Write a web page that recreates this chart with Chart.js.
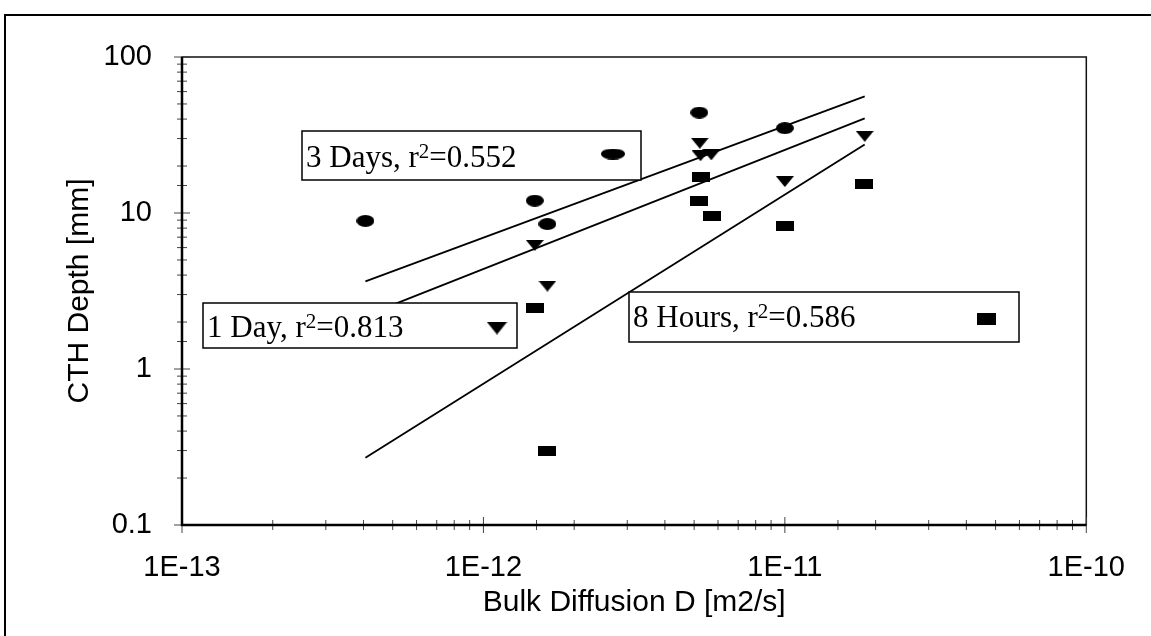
<!DOCTYPE html>
<html>
<head>
<meta charset="utf-8">
<script src="https://cdn.jsdelivr.net/npm/chart.js@4.4.0/dist/chart.umd.min.js"></script>
<style>
  html, body { margin: 0; padding: 0; background: #fff; }
  #caja { width: 1151px; height: 636px; }
</style>
</head>
<body>
<div id="caja"><canvas id="grafico" width="1151" height="636"></canvas></div>
<script>
// valores (D en m2/s, profundidad en mm)
const dias3X = [4.06e-13, 1.48e-12, 1.63e-12, 5.2e-12, 1.0e-11]
const dias3Y = [8.9, 12, 8.5, 44, 35]
const dia1X = [1.48e-12, 1.63e-12, 5.22e-12, 5.25e-12, 5.7e-12, 1.0e-11, 1.84e-11]
const dia1Y = [6.2, 3.4, 28, 23.3, 23.6, 15.9, 31]
const horas8X = [1.48e-12, 1.63e-12, 5.26e-12, 5.19e-12, 5.72e-12, 1.0e-11, 1.83e-11]
const horas8Y = [2.45, 0.30, 17, 11.9, 9.6, 8.2, 15.4]

// lineas de ajuste (extremos)
const ajusteX = [4.06e-13, 1.84e-11]
const ajuste3Y = [3.64, 56]
const ajuste1Y = [2.2, 40.4]
const ajuste8Y = [0.27, 27.5]

const series = ['3 Days', '1 Day', '8 Hours']
const r2 = ['0.552', '0.813', '0.586']

const ticksY = [0.1, 1, 10, 100]
const ticksX = [1e-13, 1e-12, 1e-11, 1e-10]

function puntos(xs, ys) {
    return xs.map((x, i) => ({ x: x, y: ys[i] }))
}

function hacerMarca(w, h, tipo) {
    const c = document.createElement('canvas')
    c.width = w
    c.height = h
    const g = c.getContext('2d')
    g.fillStyle = '#000'
    if (tipo == 'elipse') {
        g.beginPath()
        g.ellipse(w / 2, h / 2, w / 2, h / 2, 0, 0, 2 * Math.PI)
        g.fill()
    } else if (tipo == 'triangulo') {
        g.beginPath()
        g.moveTo(0, 0)
        g.lineTo(w, 0)
        g.lineTo(w / 2, h)
        g.closePath()
        g.fill()
    } else {
        g.fillRect(0, 0, w, h)
    }
    return c
}

const mElipse = hacerMarca(18, 12, 'elipse')
const mTriangulo = hacerMarca(18, 11, 'triangulo')
const mRect = hacerMarca(18, 10, 'rect')

// cajas de leyenda colocadas a mano como en el original
const cajas = [
    { x: 302, y: 131, w: 339, h: 49, base: 36, mx: 613, my: 154, marca: hacerMarca(24, 11, 'elipse') },
    { x: 203, y: 303, w: 314, h: 45, base: 34, mx: 497, my: 328, marca: hacerMarca(21, 13, 'triangulo') },
    { x: 629, y: 292, w: 390, h: 50, base: 35, mx: 986, my: 319, marca: hacerMarca(19, 12, 'rect') }
]

function esDecada(v) {
    const l = Math.log10(v)
    return Math.abs(l - Math.round(l)) < 1e-6
}

const marcos = {
    id: 'marcos',
    beforeDraw(chart) {
        const ctx = chart.ctx
        ctx.save()
        ctx.fillStyle = '#fff'
        ctx.fillRect(0, 0, chart.width, chart.height)
        ctx.strokeStyle = '#000'
        ctx.lineWidth = 2
        ctx.beginPath()
        ctx.moveTo(5, chart.height)
        ctx.lineTo(5, 15)
        ctx.lineTo(chart.width, 15)
        ctx.stroke()
        ctx.restore()
    },
    beforeDatasetsDraw(chart) {
        const ctx = chart.ctx
        const a = chart.chartArea
        const sx = chart.scales.x
        const sy = chart.scales.y
        ctx.save()
        ctx.strokeStyle = '#111'
        ctx.lineWidth = 1.5
        ctx.strokeRect(a.left, a.top, a.right - a.left, a.bottom - a.top)
        ctx.lineWidth = 1
        ctx.strokeStyle = '#444'
        sx.ticks.forEach(t => {
            const px = sx.getPixelForValue(t.value)
            const l = esDecada(t.value) ? 8 : 5
            ctx.beginPath()
            ctx.moveTo(px, a.bottom - l)
            ctx.lineTo(px, a.bottom + l)
            ctx.stroke()
        })
        sy.ticks.forEach(t => {
            const py = sy.getPixelForValue(t.value)
            const l = esDecada(t.value) ? 8 : 5
            ctx.beginPath()
            ctx.moveTo(a.left - l, py)
            ctx.lineTo(a.left + l, py)
            ctx.stroke()
        })
        ctx.strokeStyle = '#000'
        ctx.lineWidth = 2.5
        ctx.beginPath()
        ctx.moveTo(a.left, a.top)
        ctx.lineTo(a.left, a.bottom)
        ctx.lineTo(a.right, a.bottom)
        ctx.stroke()
        ctx.restore()
    },
    afterDatasetsDraw(chart) {
        const ctx = chart.ctx
        ctx.save()
        cajas.forEach((c, i) => {
            ctx.fillStyle = '#fff'
            ctx.fillRect(c.x, c.y, c.w, c.h)
            ctx.strokeStyle = '#000'
            ctx.lineWidth = 1.5
            ctx.strokeRect(c.x, c.y, c.w, c.h)
            ctx.fillStyle = '#000'
            ctx.textBaseline = 'alphabetic'
            let x = c.x + 4
            const y = c.y + c.base
            ctx.font = '31px "Liberation Serif"'
            const parte1 = series[i] + ', r'
            ctx.fillText(parte1, x, y)
            x += ctx.measureText(parte1).width
            ctx.font = '21px "Liberation Serif"'
            ctx.fillText('2', x, y - 9)
            x += ctx.measureText('2').width
            ctx.font = '31px "Liberation Serif"'
            ctx.fillText('=' + r2[i], x, y)
            ctx.drawImage(c.marca, c.mx - c.marca.width / 2, c.my - c.marca.height / 2)
        })
        ctx.restore()
    }
}

const lineaBase = { type: 'line', showLine: true, borderColor: '#000', borderWidth: 1.8, pointRadius: 0, fill: false }

const ctx = document.getElementById('grafico').getContext('2d')
const chart = new Chart(ctx, {
    type: 'scatter',
    data: {
        datasets: [
            Object.assign({ label: 'fit 3', data: puntos(ajusteX, ajuste3Y) }, lineaBase),
            Object.assign({ label: 'fit 1', data: puntos(ajusteX, ajuste1Y) }, lineaBase),
            Object.assign({ label: 'fit 8', data: puntos(ajusteX, ajuste8Y) }, lineaBase),
            { label: series[0], data: puntos(dias3X, dias3Y), pointStyle: mElipse, pointRadius: 9 },
            { label: series[1], data: puntos(dia1X, dia1Y), pointStyle: mTriangulo, pointRadius: 9 },
            { label: series[2], data: puntos(horas8X, horas8Y), pointStyle: mRect, pointRadius: 9 }
        ]
    },
    options: {
        responsive: false,
        animation: false,
        events: [],
        layout: { padding: { left: 0, top: 57, right: 54, bottom: 0 } },
        plugins: { legend: { display: false }, tooltip: { enabled: false } },
        font: { family: '"Liberation Sans"' },
        scales: {
            x: {
                type: 'logarithmic',
                min: ticksX[0],
                max: ticksX[ticksX.length - 1],
                border: { display: false },
                grid: { display: false, drawTicks: false },
                ticks: {
                    autoSkip: false,
                    maxRotation: 0,
                    padding: 26,
                    color: '#000',
                    font: { family: '"Liberation Sans"', size: 29 },
                    callback: v => esDecada(v) ? '1E' + Math.round(Math.log10(v)) : ''
                },
                title: {
                    display: true,
                    text: 'Bulk Diffusion D [m2/s]',
                    color: '#000',
                    font: { family: '"Liberation Sans"', size: 30 },
                    padding: { top: 0, bottom: 15 }
                },
                afterFit: s => { s.height = 111 }
            },
            y: {
                type: 'logarithmic',
                min: ticksY[0],
                max: ticksY[ticksY.length - 1],
                border: { display: false },
                grid: { display: false, drawTicks: false },
                ticks: {
                    autoSkip: false,
                    padding: 30,
                    color: '#000',
                    font: { family: '"Liberation Sans"', size: 29 },
                    callback: v => esDecada(v) ? String(ticksY.find(t => Math.abs(Math.log10(t) - Math.log10(v)) < 1e-6)) : ''
                },
                title: {
                    display: true,
                    text: 'CTH Depth [mm]',
                    color: '#000',
                    font: { family: '"Liberation Sans"', size: 30 },
                    padding: { top: 62, bottom: 0 }
                },
                afterFit: s => { s.width = 182 }
            }
        }
    },
    plugins: [marcos]
})
</script>
</body>
</html>
